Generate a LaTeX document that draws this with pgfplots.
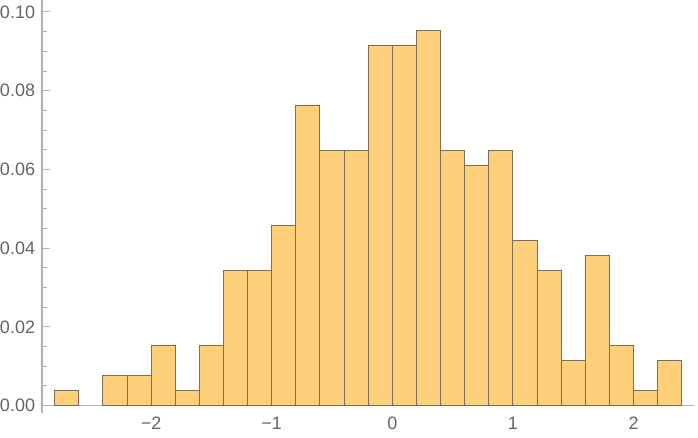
\documentclass[border=0pt]{standalone}
\usepackage{pgfplots}
\pgfplotsset{compat=1.18}
\usepackage{fontspec}
\setmainfont{Liberation Sans}
\definecolor{barfill}{RGB}{254,208,124}
\definecolor{baredge}{RGB}{128,110,84}
\definecolor{axisgray}{RGB}{178,178,178}
\definecolor{labelgray}{RGB}{100,100,100}
\begin{document}
\begin{tikzpicture}
\useasboundingbox (0pt,0pt) rectangle (349pt,219pt);
\begin{axis}[
  at={(21.05pt,12.5pt)}, anchor=south west,
  scale only axis, width=326.1pt, height=206.5pt,
  xmin=-2.904, xmax=2.504, ymin=-0.0019, ymax=0.10305,
  axis x line*=middle, axis y line*=left,
  axis line style={axisgray, line width=0.6pt},
  xtick={-2,-1,0,1,2}, xticklabels={−2,−1,0,1,2},
  ytick={0,0.02,0.04,0.06,0.08,0.10},
  yticklabels={0.00,0.02,0.04,0.06,0.08,0.10},
  minor y tick num=3,
  tick align=inside,
  tick style={axisgray, line width=0.5pt},
  xtick style={draw=none},
  major tick length=4pt, minor tick length=2.5pt,
  x tick label style={text=labelgray, font=\fontsize{9}{10}\selectfont, yshift=-2.4pt},
  y tick label style={text=labelgray, font=\fontsize{9}{10}\selectfont},
  clip=false,
]
\addplot[ybar, bar width=0.2, fill=barfill, draw=baredge, line width=0.5pt] coordinates {
(-2.7,0.00382)
(-2.3,0.00763)
(-2.1,0.00763)
(-1.9,0.01527)
(-1.7,0.00382)
(-1.5,0.01527)
(-1.3,0.03435)
(-1.1,0.03435)
(-0.9,0.04580)
(-0.7,0.07634)
(-0.5,0.06489)
(-0.3,0.06489)
(-0.1,0.09160)
(0.1,0.09160)
(0.3,0.09542)
(0.5,0.06489)
(0.7,0.06107)
(0.9,0.06489)
(1.1,0.04198)
(1.3,0.03435)
(1.5,0.01145)
(1.7,0.03817)
(1.9,0.01527)
(2.1,0.00382)
(2.3,0.01145)
};
\end{axis}
\end{tikzpicture}
\end{document}
